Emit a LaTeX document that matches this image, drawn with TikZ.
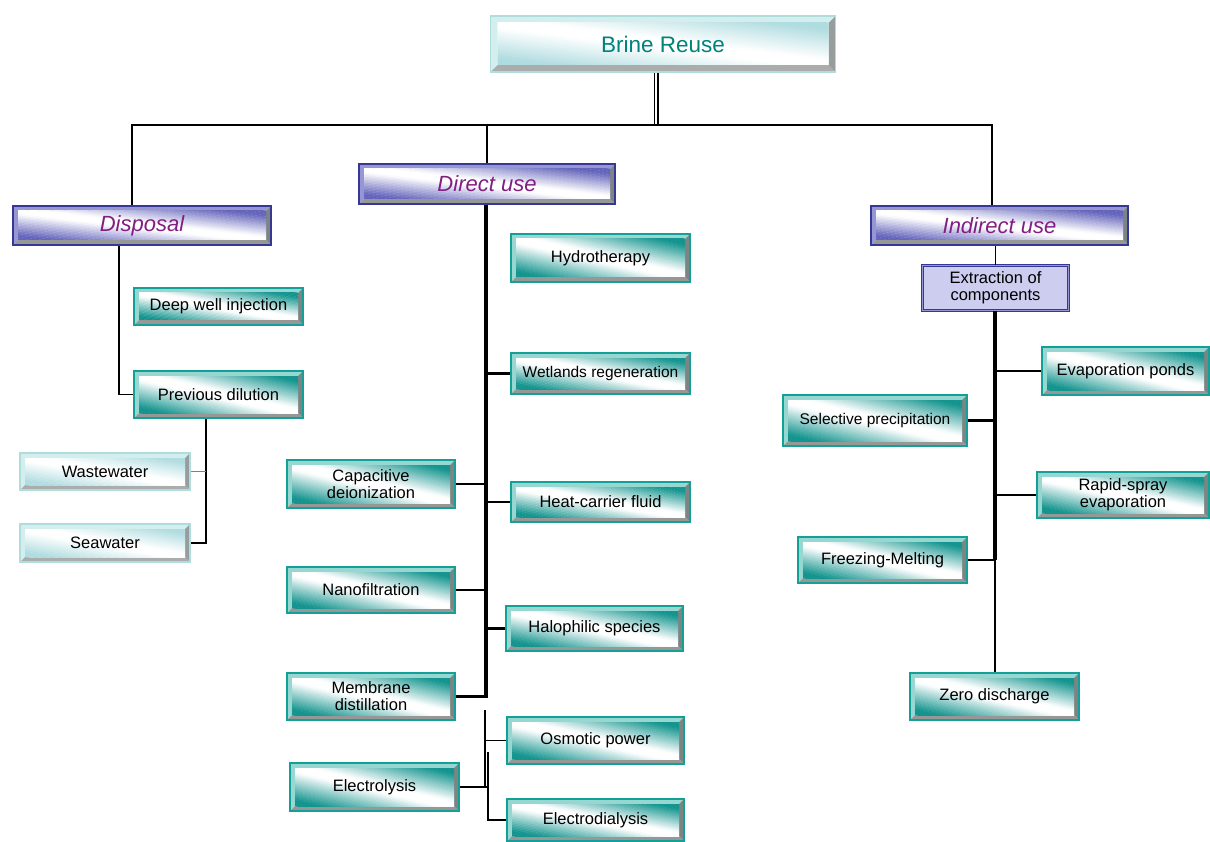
\documentclass[tikz,border=0pt]{standalone}
\usepackage{fontspec}
\setmainfont{Liberation Sans}
\usetikzlibrary{calc}
\definecolor{tealB}{RGB}{20,160,150}
\definecolor{tealL}{RGB}{150,215,210}
\definecolor{tealF}{RGB}{20,148,142}
\definecolor{navyB}{RGB}{55,55,150}
\definecolor{navyL}{RGB}{150,150,210}
\definecolor{navyF}{RGB}{100,100,188}
\definecolor{lavF}{RGB}{205,205,240}
\definecolor{liteB}{RGB}{175,220,220}
\definecolor{liteL}{RGB}{212,238,238}
\definecolor{liteF}{RGB}{175,220,224}
\definecolor{grayD}{RGB}{150,152,152}
\definecolor{grayR}{RGB}{125,132,132}
\definecolor{brineT}{RGB}{0,130,125}
\definecolor{purpT}{RGB}{130,30,130}
\colorlet{facecol}{tealF}
\pgfkeys{/tikz/bev w/.store in=\bevw, /tikz/bev w=5pt}
\tikzset{
  bevelbox/.style n args={5}{
    rectangle, inner sep=0pt, draw=#1, line width=1.4pt, align=center,
    path picture={
      \coordinate (ppA) at (path picture bounding box.south west);
      \coordinate (ppB) at (path picture bounding box.north east);
      \fill[#2] (ppA) -- (ppA |- ppB) -- (ppB) -- ($(ppB)+(-\bevw,-\bevw)$) -- ($(ppA |- ppB)+(\bevw,-\bevw)$) -- ($(ppA)+(\bevw,\bevw)$) -- cycle;
      \fill[#3] (ppA) -- (ppA -| ppB) -- ($(ppA -| ppB)+(-\bevw,\bevw)$) -- ($(ppA)+(\bevw,\bevw)$) -- cycle;
      \fill[#4] (ppA -| ppB) -- (ppB) -- ($(ppB)+(-\bevw,-\bevw)$) -- ($(ppA -| ppB)+(-\bevw,\bevw)$) -- cycle;
      \colorlet{facecol}{#5}
      \coordinate (fA) at ($(ppA)+(\bevw,\bevw)$);
      \coordinate (fB) at ($(ppB)+(-\bevw,-\bevw)$);
      \begin{scope}
        \clip (fA) rectangle (fB);
        \foreach \k in {0,...,39} {
          \pgfmathtruncatemacro\tval{max(0,min(100,(abs((\k+0.5)/20-1)-0.1)/0.75*100))}
          \fill[facecol!\tval!white] let \p1=(fA), \p2=(fB) in
            ({\x1+(\k/20+1)*(\x2-\x1)}, {\y1-(\y2-\y1)}) --
            ({\x1+((\k+1)/20+1.01)*(\x2-\x1)}, {\y1-(\y2-\y1)}) --
            ({\x1+((\k+1)/20-1.99)*(\x2-\x1)}, {\y1+2*(\y2-\y1)}) --
            ({\x1+(\k/20-2)*(\x2-\x1)}, {\y1+2*(\y2-\y1)}) -- cycle;
        }
      \end{scope}
    }
  },
  leaf/.style={bevelbox={tealB}{tealL}{grayD}{grayR}{tealF}, font=\fontsize{16.5}{17}\selectfont},
  smallleaf/.style={leaf, font=\fontsize{15.5}{17}\selectfont},
  lvl/.style={bevelbox={navyB}{navyL}{grayD}{grayR}{navyF}, text=purpT, font=\fontsize{22}{24}\selectfont\itshape},
  lite/.style={bevelbox={liteB}{liteL}{grayD!80}{grayR!80}{liteF}, font=\fontsize{16.5}{17}\selectfont},
  conn/.style={draw=black, line width=2pt},
  thinc/.style={draw=black, line width=1.2pt},
  trunk/.style={draw=black, line width=3.2pt},
  branch/.style={draw=black, line width=2.4pt},
}
\begin{document}
\begin{tikzpicture}[x=1pt,y=-1pt]
\useasboundingbox (0,0) rectangle (1210,842);
% top
\node[bevelbox={liteB}{liteL}{grayD!80}{grayR!80}{liteF}, bev w=7pt, minimum width=345pt, minimum height=56pt, text=brineT, font=\fontsize{22.5}{24}\selectfont] (br) at (663,44) {Brine Reuse};
% level 1
\node[lvl, minimum width=258pt, minimum height=39pt] (dis) at (142,225.5) {Disposal};
\node[lvl, minimum width=256pt, minimum height=40pt] (dir) at (487,184) {Direct use};
\node[lvl, minimum width=257pt, minimum height=39pt] (ind) at (999.5,225.5) {Indirect use};
% disposal branch
\node[leaf, minimum width=169pt, minimum height=37pt] (dwi) at (218.5,306.5) {Deep well injection};
\node[leaf, minimum width=169pt, minimum height=47pt] (prev) at (218.5,394.5) {Previous dilution};
\node[lite, minimum width=170pt, minimum height=37pt] (ww) at (105,471.5) {Wastewater};
\node[lite, minimum width=170pt, minimum height=38pt] (sea) at (105,543) {Seawater};
% direct use
\node[leaf, minimum width=179pt, minimum height=48pt] (hyd) at (600.5,258) {Hydrotherapy};
\node[smallleaf, minimum width=179pt, minimum height=41pt] (wet) at (600.5,373.5) {Wetlands regeneration};
\node[leaf, minimum width=168pt, minimum height=48pt] (cap) at (371,484) {Capacitive\\deionization};
\node[leaf, minimum width=179pt, minimum height=40pt] (heat) at (600.5,502) {Heat-carrier fluid};
\node[leaf, minimum width=168pt, minimum height=46pt] (nano) at (371,590) {Nanofiltration};
\node[leaf, minimum width=177pt, minimum height=45pt] (halo) at (594.5,628.5) {Halophilic species};
\node[leaf, minimum width=168pt, minimum height=47pt] (md) at (371,696.5) {Membrane\\distillation};
\node[leaf, minimum width=177pt, minimum height=47pt] (osm) at (595.5,740.5) {Osmotic power};
\node[leaf, minimum width=169pt, minimum height=48pt] (ely) at (374.5,787) {Electrolysis};
\node[leaf, minimum width=177pt, minimum height=42pt] (eld) at (595.5,820) {Electrodialysis};
% indirect use
\node[rectangle, draw=navyB, line width=1.2pt, double=navyL, double distance=1pt, fill=lavF, minimum width=146pt, minimum height=45pt, align=center, font=\fontsize{16.5}{17}\selectfont] (ext) at (995.5,288) {Extraction of\\components};
\node[leaf, minimum width=167pt, minimum height=48pt] (evap) at (1125.5,371) {Evaporation ponds};
\node[smallleaf, minimum width=184pt, minimum height=51pt] (sel) at (875,420.5) {Selective precipitation};
\node[leaf, minimum width=172pt, minimum height=46pt] (rapid) at (1123,495) {Rapid-spray\\evaporation};
\node[leaf, minimum width=169pt, minimum height=46pt] (frz) at (882.5,560) {Freezing-Melting};
\node[leaf, minimum width=169pt, minimum height=47pt] (zero) at (994.5,696.5) {Zero discharge};
% junction coordinates
\coordinate (jm) at (656,125);
\coordinate (jl) at (132,125);
\coordinate (jr) at (992,125);
\coordinate (d1) at (119,0);
\coordinate (d2) at (206,0);
\coordinate (t1) at (486,0);
\coordinate (b0) at (485,710);
\coordinate (b1) at (488,752);
\coordinate (t3) at (995,0);
% top connectors
\draw[black, line width=1.6pt, double=white, double distance=1.8pt] (jm |- br.south) -- (jm);
\draw[conn] (jl |- dis.north) |- (jr) -- (jr |- ind.north);
\draw[conn] (dir.north) -- (dir.north |- jm);
% disposal
\draw[thinc] (d1 |- dis.south) |- (prev.west);
\draw[thinc] (d2 |- prev.south) |- (sea.east);
\draw[draw=gray, line width=1.2pt] (ww.east) -- (ww.east -| d2);
% direct use
\draw[trunk] (t1 |- dir.south) |- (md.east);
\draw[branch] (wet.west) -- (wet.west -| t1);
\draw[branch] (cap.east) -- (cap.east -| t1);
\draw[branch] (heat.west) -- (heat.west -| t1);
\draw[branch] (nano.east) -- (nano.east -| t1);
\draw[branch] (halo.west) -- (halo.west -| t1);
\draw[line width=1.6pt] (b0) -- (b0 |- ely.east);
\draw[line width=1.6pt] (b0 |- osm.west) -- (osm.west);
\draw[branch] (ely.east) -- (ely.east -| b1);
\draw[branch] (b1) |- (eld.west);
% indirect use
\draw[thinc] (ext.north |- ind.south) -- (ext.north);
\draw[trunk] (t3 |- ext.south) -- (t3 |- frz.east);
\draw[branch] (evap.west) -- (evap.west -| t3);
\draw[branch] (sel.east) -- (sel.east -| t3);
\draw[branch] (rapid.west) -- (rapid.west -| t3);
\draw[branch] (frz.east) -- (frz.east -| t3);
\draw[thinc] (t3 |- frz.east) -- (t3 |- zero.north);
\end{tikzpicture}
\end{document}
